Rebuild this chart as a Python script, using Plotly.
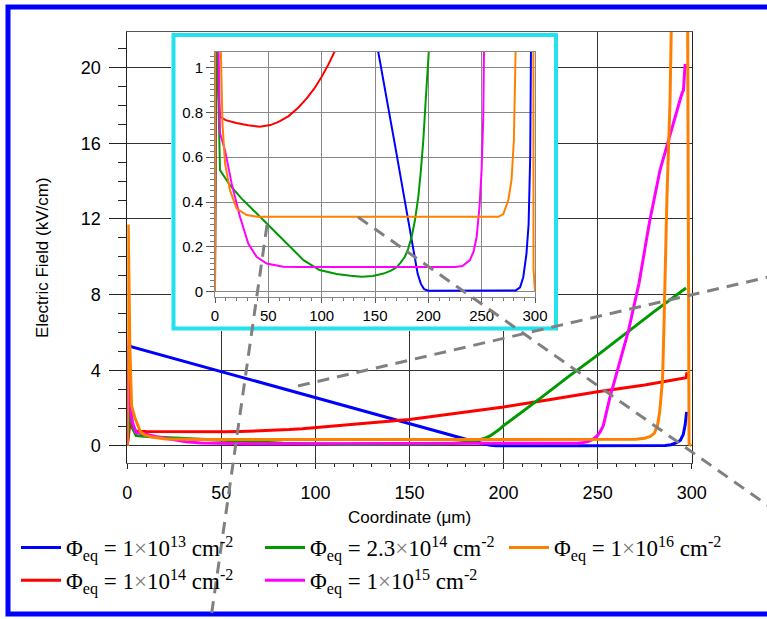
import plotly.graph_objects as go

# ---------------- data ----------------
coord_blue = [0, 1, 2, 20, 50, 100, 150, 170, 180, 186, 190, 193, 196, 200, 240, 282, 286, 289, 292, 294, 295.5, 296.5, 297.3]
field_blue = [0, 5.35, 5.25, 4.75, 3.92, 2.53, 1.15, 0.62, 0.35, 0.19, 0.08, 0.035, 0.012, 0.005, 0.005, 0.006, 0.02, 0.065, 0.17, 0.3, 0.6, 1.1, 1.8]

coord_red = [0, 1.5, 3, 4.7, 10, 20, 31, 42, 52, 60, 69, 78, 86, 93, 100, 106, 112.5, 125, 150, 175, 200, 225, 250, 275, 297, 297.5]
field_red = [0, 1.3, 0.9, 0.78, 0.765, 0.752, 0.742, 0.735, 0.743, 0.758, 0.783, 0.82, 0.862, 0.905, 0.958, 1.01, 1.074, 1.18, 1.4, 1.72, 2.06, 2.45, 2.86, 3.22, 3.6, 3.9]

coord_green = [0, 1.5, 3, 4.7, 14, 25, 37.5, 51.6, 67, 83, 98, 114, 127, 137.5, 148, 158, 165, 170.3, 174, 178, 181, 184.4, 187.5, 190.6, 193, 195.3, 197.5, 200, 205, 210, 220, 235, 250, 265, 280, 297]
field_green = [0, 2.2, 0.9, 0.542, 0.475, 0.415, 0.357, 0.29, 0.215, 0.141, 0.097, 0.079, 0.071, 0.067, 0.07, 0.081, 0.094, 0.109, 0.13, 0.156, 0.19, 0.245, 0.32, 0.423, 0.54, 0.676, 0.85, 1.07, 1.43, 1.8, 2.55, 3.7, 4.8, 5.95, 7.1, 8.35]

coord_magenta = [0, 1, 1.6, 2.5, 4.7, 9.4, 15.6, 23.4, 31.2, 39, 48.4, 64, 80, 150, 225, 232, 239, 242.5, 245.3, 248, 250, 251.5, 253, 256.5, 260.4, 266.4, 272, 277.5, 283.2, 288.5, 291.2, 294.7, 295.6, 296, 296.5]
field_magenta = [0, 5.7, 2.5, 1.3, 0.706, 0.63, 0.483, 0.334, 0.215, 0.156, 0.126, 0.112, 0.11, 0.11, 0.11, 0.115, 0.141, 0.18, 0.245, 0.38, 0.55, 0.78, 1.07, 2.55, 4.0, 6.1, 8.6, 11.8, 14.6, 16.5, 17.4, 18.6, 18.8, 19.5, 20.2]

coord_orange = [0, 0.5, 1.4, 2.3, 4, 5.5, 7, 9.4, 14, 20.3, 29.7, 40, 150, 265.6, 270.3, 275, 278, 280.2, 281.8, 283, 284.5, 285.2, 286.8, 288.5, 289.4, 290.5, 297.6, 297.9, 298.4, 298.6, 300]
field_orange = [0, 11.7, 5.0, 2.1, 1.5, 1.07, 0.75, 0.572, 0.453, 0.371, 0.342, 0.334, 0.334, 0.334, 0.346, 0.409, 0.498, 0.676, 1.07, 1.8, 3.5, 6.1, 13, 18.3, 21.8, 30, 30, 22, 2.0, 0.1, 0]

labels = [
    "Φ<sub>eq</sub> = 1<span style='color:#777'>×</span>10<sup>13</sup> cm<sup>-2</sup>",
    "Φ<sub>eq</sub> = 1<span style='color:#777'>×</span>10<sup>14</sup> cm<sup>-2</sup>",
    "Φ<sub>eq</sub> = 2.3<span style='color:#777'>×</span>10<sup>14</sup> cm<sup>-2</sup>",
    "Φ<sub>eq</sub> = 1<span style='color:#777'>×</span>10<sup>15</sup> cm<sup>-2</sup>",
    "Φ<sub>eq</sub> = 1<span style='color:#777'>×</span>10<sup>16</sup> cm<sup>-2</sup>",
]
colors = ["#0000ff", "#ff0000", "#009a00", "#ff00ff", "#ff8000"]
ranks = [1, 4, 2, 5, 3]
series_x = [coord_blue, coord_red, coord_green, coord_magenta, coord_orange]
series_y = [field_blue, field_red, field_green, field_magenta, field_orange]

# ---------------- geometry helpers ----------------
W, H = 767, 619
def fx(p):
    return p / W
def fy(p):
    return 1 - p / H

fig = go.Figure()

# main plot traces
for lab, xs, ys, c, r in zip(labels, series_x, series_y, colors, ranks):
    fig.add_trace(go.Scatter(x=xs, y=ys, mode="lines", name=lab, legendrank=r,
                             line=dict(color=c, width=3), xaxis="x", yaxis="y"))

# blank subplot used as the white background of the inset box
fig.add_trace(go.Scatter(x=[], y=[], mode="lines", showlegend=False, xaxis="x2", yaxis="y2"))

# inset traces
for lab, xs, ys, c in zip(labels, series_x, series_y, colors):
    fig.add_trace(go.Scatter(x=xs, y=ys, mode="lines", showlegend=False,
                             line=dict(color=c, width=2), xaxis="x3", yaxis="y3"))

tick_main = dict(family="Liberation Sans, Arial", size=18, color="black")
tick_inset = dict(family="Liberation Sans, Arial", size=15, color="black")

fig.update_layout(
    width=W, height=H, autosize=False,
    margin=dict(l=0, r=0, t=0, b=0, autoexpand=False),
    paper_bgcolor="white", plot_bgcolor="white",
    xaxis=dict(domain=[fx(127.3), fx(691.7)], range=[0, 300], anchor="y",
               showline=True, linecolor="#555", linewidth=1, mirror=True,
               ticks="outside", ticklen=5, tickcolor="#222", dtick=50, tick0=0,
               minor=dict(dtick=10, ticks="outside", ticklen=3, tickcolor="#222", showgrid=False),
               showgrid=True, gridcolor="#333", gridwidth=1, zeroline=False,
               tickfont=tick_main, ticklabelstandoff=8, automargin=False),
    yaxis=dict(domain=[fy(463.3), fy(31.7)], range=[-0.92, 21.9], anchor="x",
               showline=True, linecolor="#222", linewidth=1, mirror=True,
               ticks="outside", ticklen=17, tickcolor="#222", dtick=4, tick0=0,
               minor=dict(dtick=1, ticks="outside", ticklen=8, tickcolor="#222", showgrid=False),
               showgrid=True, gridcolor="#333", gridwidth=1,
               zeroline=True, zerolinecolor="#333", zerolinewidth=1,
               tickfont=tick_main, ticklabelstandoff=5, automargin=False),
    xaxis2=dict(domain=[fx(171), fx(558)], range=[0, 1], anchor="y2", visible=False),
    yaxis2=dict(domain=[fy(331), fy(32)], range=[0, 1], anchor="x2", visible=False),
    xaxis3=dict(domain=[fx(215), fx(535)], range=[0, 300], anchor="y3",
                showline=True, linecolor="#888", linewidth=1, mirror=True,
                ticks="outside", ticklen=5, tickcolor="#555", dtick=50, tick0=0,
                minor=dict(dtick=10, ticks="outside", ticklen=3, tickcolor="#777", showgrid=False),
                showgrid=True, gridcolor="#888", gridwidth=1, zeroline=False,
                tickfont=tick_inset, automargin=False),
    yaxis3=dict(domain=[fy(296.7), fy(51.7)], range=[-0.022, 1.07], anchor="x3",
                showline=True, linecolor="#888", linewidth=1, mirror=True,
                ticks="outside", ticklen=8, tickcolor="#555", dtick=0.2, tick0=0,
                minor=dict(dtick=0.025, ticks="outside", ticklen=4, tickcolor="#777", showgrid=False),
                showgrid=True, gridcolor="#888", gridwidth=1,
                zeroline=True, zerolinecolor="#888", zerolinewidth=1,
                tickfont=tick_inset, automargin=False),
    legend=dict(orientation="h", x=fx(16), xanchor="left", y=fy(526), yanchor="top",
                font=dict(family="Liberation Serif, Times New Roman", size=23, color="black"),
                entrywidth=189, entrywidthmode="pixels", itemwidth=40,
                bgcolor="rgba(0,0,0,0)", traceorder="normal"),
    showlegend=True,
)

# axis titles
fig.add_annotation(text="Electric Field (kV/cm)", x=fx(42), y=fy(258), xref="paper", yref="paper",
                   textangle=-90, showarrow=False, xanchor="center", yanchor="middle",
                   font=dict(family="Liberation Sans, Arial", size=17, color="black"))
fig.add_annotation(text="Coordinate (μm)", x=fx(410), y=fy(517), xref="paper", yref="paper",
                   showarrow=False, xanchor="center", yanchor="middle",
                   font=dict(family="Liberation Sans, Arial", size=17, color="black"))

# outer blue frame
fig.add_shape(type="rect", xref="paper", yref="paper", x0=fx(8), x1=fx(790), y0=fy(614), y1=fy(7),
              line=dict(color="#0000ff", width=5), fillcolor="rgba(0,0,0,0)", layer="above")
# cyan inset border
fig.add_shape(type="rect", xref="paper", yref="paper", x0=fx(173.5), x1=fx(556), y0=fy(328.5), y1=fy(35),
              line=dict(color="#22e2ee", width=4), fillcolor="rgba(0,0,0,0)", layer="above")
# dashed guide lines
dash = dict(color="#808080", width=3, dash="12px,8px")
fig.add_shape(type="line", xref="paper", yref="paper", x0=fx(267), y0=fy(225), x1=fx(210), y1=fy(625), line=dash, layer="above")
fig.add_shape(type="line", xref="paper", yref="paper", x0=fx(358), y0=fy(217), x1=fx(790), y1=fy(521), line=dash, layer="above")
fig.add_shape(type="line", xref="paper", yref="paper", x0=fx(298), y0=fy(386), x1=fx(790), y1=fy(272), line=dash, layer="above")

fig.write_html("out.html")
